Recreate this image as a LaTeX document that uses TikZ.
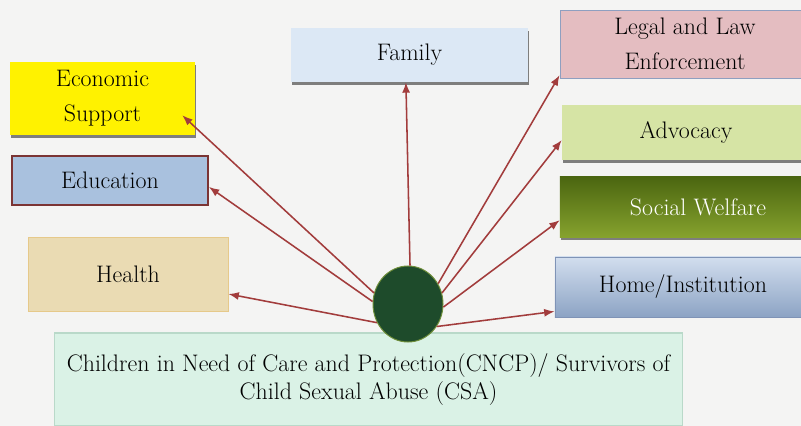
\documentclass[tikz,border=0pt]{standalone}
\usepackage{tikz}
\usetikzlibrary{arrows.meta,shapes.geometric,shadows}
\definecolor{bgpaper}{HTML}{F4F4F3}
\definecolor{linkred}{HTML}{A23C3C}
\definecolor{econfill}{HTML}{FFF200}
\definecolor{edufill}{HTML}{A9C1DE}
\definecolor{eduline}{HTML}{7B3434}
\definecolor{healthfill}{HTML}{EADBB3}
\definecolor{healthline}{HTML}{E6C98A}
\definecolor{familyfill}{HTML}{DCE8F5}
\definecolor{legalfill}{HTML}{E4BDC1}
\definecolor{legalline}{HTML}{8E9FC0}
\definecolor{advfill}{HTML}{D6E4A5}
\definecolor{socialtop}{HTML}{4B6610}
\definecolor{socialbot}{HTML}{86A22E}
\definecolor{hometop}{HTML}{D2DEEE}
\definecolor{homebot}{HTML}{8CA3C4}
\definecolor{homeline}{HTML}{7F93B6}
\definecolor{cncpfill}{HTML}{DAF2E6}
\definecolor{cncpline}{HTML}{B9D9C9}
\definecolor{hubfill}{HTML}{1E4B2B}
\definecolor{hubline}{HTML}{6F8F3A}

\begin{document}
\begin{tikzpicture}[x=0.025cm,y=-0.025cm,>=Latex,
  box/.style={rectangle,align=center,inner sep=2pt,text=black,font=\fontsize{17}{25}\selectfont},
  shade box/.style={drop shadow={shadow xshift=.6pt,shadow yshift=-2.4pt,fill=black!70,opacity=.7}},
  link/.style={draw=linkred,line width=1.1pt,-{Latex[length=2.6mm,width=2mm]}}]
\clip (0,0) rectangle (801,426);
\fill[bgpaper] (0,0) rectangle (801,426);
% left column
\node[box,shade box,fill=econfill,minimum width=4.625cm,minimum height=1.825cm] (econ) at (102.5,98.5) {Economic\\Support};
\node[box,fill=edufill,draw=eduline,line width=1.2pt,minimum width=4.9cm,minimum height=1.225cm] (edu) at (110,180.5) {Education};
\node[box,fill=healthfill,draw=healthline,line width=.6pt,minimum width=5.0cm,minimum height=1.85cm] (health) at (128,274) {Health};
% top
\node[box,shade box,fill=familyfill,minimum width=5.925cm,minimum height=1.35cm] (family) at (409.5,55) {Family};
% right column
\node[box,fill=legalfill,draw=legalline,line width=.6pt,minimum width=6.25cm,minimum height=1.7cm] (legal) at (685,44) {Legal and Law\\Enforcement};
\node[box,shade box,fill=advfill,minimum width=6.2cm,minimum height=1.375cm] (adv) at (686,132.5) {Advocacy};
\node[box,shade box,top color=socialtop,bottom color=socialbot,text=white,minimum width=6.9cm,minimum height=1.5cm] (social) at (698,207) {Social Welfare};
\node[box,top color=hometop,bottom color=homebot,draw=homeline,line width=.6pt,minimum width=6.4cm,minimum height=1.5cm] (home) at (683,287) {Home/Institution};
% bottom
\node[box,fill=cncpfill,draw=cncpline,line width=.8pt,minimum width=15.675cm,minimum height=2.325cm,font=\fontsize{17}{20}\selectfont] (cncp) at (368.5,379.5) {Children in Need of Care and Protection(CNCP)/ Survivors of\\Child Sexual Abuse (CSA)};
\node[ellipse,fill=hubfill,draw=hubline,line width=.7pt,minimum width=1.75cm,minimum height=1.9cm,inner sep=0pt] (hub) at (408,304) {};
% links
\draw[link] (hub.162) -- ([xshift=-0.325cm,yshift=0.5cm]econ.south east);
\draw[link] (hub.176) -- ([yshift=-0.16cm]edu.east);
\draw[link] (hub.211) -- ([yshift=-0.5cm]health.east);
\draw[link] (hub.87) -- ([xshift=-0.09cm]family.south);
\draw[link] (hub.34) -- ([yshift=0.08cm]legal.south west);
\draw[link] (hub.18) -- ([yshift=-0.19cm]adv.west);
\draw[link] (hub.355) -- ([yshift=-0.33cm]social.west);
\draw[link] (hub.322) -- ([yshift=0.15cm]home.south west);
\end{tikzpicture}
\end{document}
